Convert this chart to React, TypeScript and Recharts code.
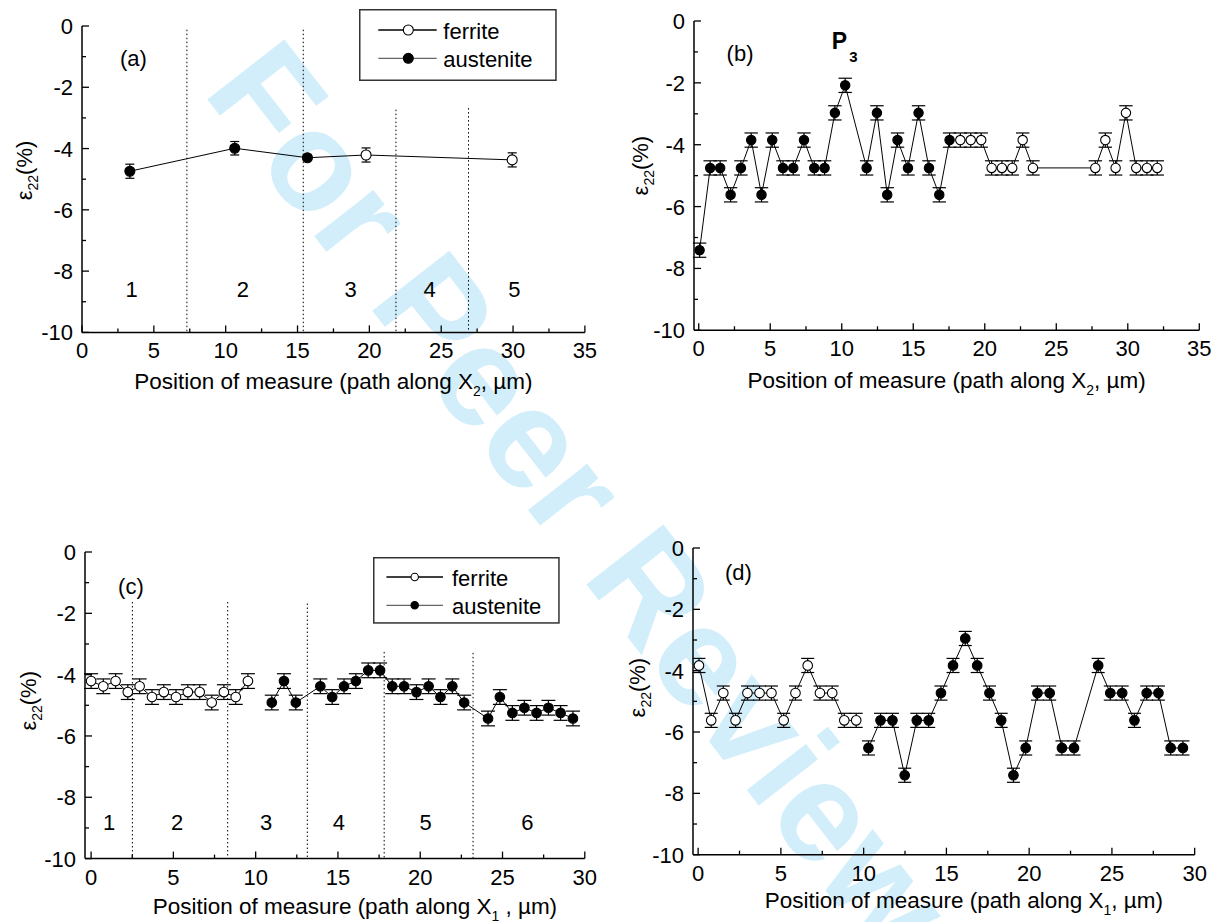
import React from "react";
import {
  ComposedChart,
  ErrorBar,
  Legend,
  Line,
  ReferenceDot,
  ReferenceLine,
  XAxis,
  YAxis,
} from "recharts";

const FONT = '"Liberation Sans", Arial, Helvetica, sans-serif';

// shared ticks
const xTicks35 = [0, 2.5, 5, 7.5, 10, 12.5, 15, 17.5, 20, 22.5, 25, 27.5, 30, 32.5, 35];
const xTicks30 = [0, 2.5, 5, 7.5, 10, 12.5, 15, 17.5, 20, 22.5, 25, 27.5, 30];
const yTicks = [0, -1, -2, -3, -4, -5, -6, -7, -8, -9, -10];
const legendNames = ["ferrite", "austenite"];

// (a) path along X2, five zones
const aPos = [3.33, 10.63, 15.69, 19.77, 29.94];
const aStrain = [-4.74, -3.99, -4.3, -4.21, -4.37];
const aErr = [0.23, 0.22, 0.08, 0.23, 0.23];
const aPhase = ["austenite", "austenite", "austenite", "ferrite", "ferrite"];
const aBounds = [7.3, 15.4, 21.85, 26.9];
const aBoundTop = [-0.12, -0.12, -2.73, -2.68];
const aZones = ["1", "2", "3", "4", "5"];
const aZonePos = [3.46, 11.2, 18.7, 24.2, 30.1];

// (b) path along X2, fine steps
const bAusPos = [
  0.06, 0.8, 1.5, 2.23, 2.95, 3.67, 4.39, 5.14, 5.89, 6.61, 7.36, 8.08, 8.8, 9.52,
  10.24, 11.74, 12.46, 13.18, 13.9, 14.63, 15.37, 16.1, 16.82, 17.54,
];
const bAusStrain = [
  -7.41, -4.75, -4.75, -5.62, -4.75, -3.85, -5.62, -3.85, -4.75, -4.75, -3.85, -4.75,
  -4.75, -2.97, -2.08, -4.75, -2.97, -5.62, -3.85, -4.75, -2.97, -4.75, -5.62, -3.85,
];
const bFerPos = [
  18.29, 19.02, 19.75, 20.48, 21.2, 21.92, 22.65, 23.37, 27.73, 28.43, 29.15, 29.87,
  30.59, 31.34, 32.06,
];
const bFerStrain = [
  -3.85, -3.85, -3.85, -4.75, -4.75, -4.75, -3.85, -4.75, -4.75, -3.85, -4.75, -2.97,
  -4.75, -4.75, -4.75,
];
const bErr = 0.23;

// (c) path along X1, six zones
const cFerPos = [0, 0.74, 1.49, 2.23, 2.95, 3.7, 4.42, 5.16, 5.88, 6.6, 7.33, 8.07, 8.79, 9.53];
const cFerStrain = [
  -4.21, -4.38, -4.21, -4.57, -4.38, -4.73, -4.57, -4.73, -4.57, -4.57, -4.91, -4.57,
  -4.73, -4.21,
];
const cAusPos = [
  10.98, 11.72, 12.44, 13.93, 14.65, 15.37, 16.09, 16.84, 17.56, 18.3, 19.02, 19.77,
  20.51, 21.23, 21.95, 22.67, 24.12, 24.84, 25.6, 26.33, 27.07, 27.79, 28.53, 29.28,
];
const cAusStrain = [
  -4.91, -4.21, -4.91, -4.38, -4.73, -4.38, -4.21, -3.86, -3.86, -4.38, -4.38, -4.57,
  -4.38, -4.73, -4.38, -4.91, -5.43, -4.73, -5.25, -5.08, -5.25, -5.08, -5.25, -5.43,
];
const cErr = 0.24;
const cBounds = [2.51, 8.3, 13.14, 17.81, 23.21];
const cBoundTop = [-1.63, -1.63, -1.68, -3.26, -3.29];
const cZones = ["1", "2", "3", "4", "5", "6"];
const cZonePos = [1.09, 5.23, 10.63, 15.05, 20.33, 26.51];

// (d) path along X1
const dFerPos = [0.05, 0.79, 1.52, 2.26, 2.98, 3.71, 4.43, 5.17, 5.88, 6.62, 7.36, 8.1, 8.83, 9.55];
const dFerStrain = [
  -3.83, -5.62, -4.73, -5.62, -4.73, -4.73, -4.73, -5.62, -4.73, -3.83, -4.73, -4.73,
  -5.62, -5.62,
];
const dAusPos = [
  10.29, 11.02, 11.74, 12.48, 13.21, 13.93, 14.67, 15.4, 16.14, 16.86, 17.6, 18.31,
  19.05, 19.79, 20.5, 21.24, 21.98, 22.71, 24.17, 24.9, 25.62, 26.36, 27.1, 27.81,
  28.55, 29.29,
];
const dAusStrain = [
  -6.52, -5.62, -5.62, -7.41, -5.62, -5.62, -4.73, -3.83, -2.95, -3.83, -4.73, -5.62,
  -7.41, -6.52, -4.73, -4.73, -6.52, -6.52, -3.83, -4.73, -4.73, -5.62, -4.73, -4.73,
  -6.52, -6.52,
];
const dErr = 0.23;

type Row = { x: number; y: number; e: number; phase: string };

function toRows(xs: number[], ys: number[], err: number[] | number, phase: string[] | string): Row[] {
  return xs.map((x, i) => ({
    x,
    y: ys[i],
    e: Array.isArray(err) ? err[i] : err,
    phase: Array.isArray(phase) ? phase[i] : phase,
  }));
}

const makeDot = (r: number) => (p: any) => {
  if (p.cx == null || p.cy == null) return <g key={`n-${p.index}`} />;
  const ferrite = p.payload.phase === "ferrite";
  return (
    <circle
      key={`d-${p.index}`}
      cx={p.cx}
      cy={p.cy}
      r={r}
      fill={ferrite ? "#fff" : "#000"}
      stroke="#000"
      strokeWidth={1.1}
    />
  );
};

const YTick = (p: any) => {
  const v = p.payload.value;
  const major = v % 2 === 0;
  return (
    <g>
      <line x1={p.x} x2={p.x + (major ? 7 : 4)} y1={p.y} y2={p.y} stroke="#000" strokeWidth={1.3} />
      {major ? (
        <text x={p.x - 9} y={p.y + 8} textAnchor="end" fontFamily={FONT} fontSize={22} fill="#000">
          {v}
        </text>
      ) : null}
    </g>
  );
};

const XTick = (p: any) => {
  const v = p.payload.value;
  const major = v % 5 === 0;
  return (
    <g>
      <line x1={p.x} x2={p.x} y1={p.y} y2={p.y - (major ? 7 : 4)} stroke="#000" strokeWidth={1.3} />
      {major ? (
        <text x={p.x} y={p.y + 26} textAnchor="middle" fontFamily={FONT} fontSize={22} fill="#000">
          {v}
        </text>
      ) : null}
    </g>
  );
};

const yLabel = (off: number, dy: number) => (p: any) => {
  const vb = p.viewBox;
  const bx = vb.x + vb.width - off;
  const cy = vb.y + vb.height / 2 + dy;
  return (
    <text
      transform={`translate(${bx},${cy}) rotate(-90)`}
      textAnchor="middle"
      fontFamily={FONT}
      fontSize={22}
      fill="#000"
    >
      ε
      <tspan fontSize={14} dy={6}>
        22
      </tspan>
      <tspan dy={-6}>(%)</tspan>
    </text>
  );
};

const xLabel = (sub: string, sep: string, dx: number, base: number) => (p: any) => {
  const vb = p.viewBox;
  return (
    <text
      x={vb.x + vb.width / 2 + dx}
      y={vb.y + base}
      textAnchor="middle"
      fontFamily={FONT}
      fontSize={22.5}
      fill="#000"
    >
      Position of measure (path along X
      <tspan fontSize={14} dy={7}>
        {sub}
      </tspan>
      <tspan dy={-7}>{sep}µm)</tspan>
    </text>
  );
};

const centerText = (text: string, shift = 8) => (p: any) => {
  const vb = p.viewBox;
  return (
    <text x={vb.x} y={vb.y + shift} textAnchor="middle" fontFamily={FONT} fontSize={22} fill="#000">
      {text}
    </text>
  );
};

const p3Label = (p: any) => {
  const vb = p.viewBox;
  return (
    <text x={vb.x} y={vb.y} fontFamily={FONT} fontWeight="bold" fill="#000">
      <tspan fontSize={23}>P</tspan>
      <tspan fontSize={15} dx={2} dy={13}>
        3
      </tspan>
    </text>
  );
};

type LegendCfg = { w: number; h: number; rowY: number[]; lineX: number[]; dotX: number; textX: number; r: number; base: number };

const legendContent = (cfg: LegendCfg) => () => (
  <svg width={cfg.w} height={cfg.h} style={{ display: "block" }}>
    <rect x={0.75} y={0.75} width={cfg.w - 1.5} height={cfg.h - 1.5} fill="#fff" stroke="#333" strokeWidth={1.5} />
    {legendNames.map((name, i) => (
      <g key={name}>
        <line
          x1={cfg.lineX[0]}
          x2={cfg.lineX[1]}
          y1={cfg.rowY[i]}
          y2={cfg.rowY[i]}
          stroke={i === 0 ? "#000" : "#666"}
          strokeWidth={1.3}
        />
        <circle cx={cfg.dotX} cy={cfg.rowY[i]} r={cfg.r} fill={i === 0 ? "#fff" : "#000"} stroke="#000" strokeWidth={1.1} />
        <text x={cfg.textX} y={cfg.rowY[i] + cfg.base} fontFamily={FONT} fontSize={22} fill="#000">
          {name}
        </text>
      </g>
    ))}
  </svg>
);

type PanelProps = {
  plot: { l: number; r: number; t: number; b: number };
  xDomain: [number, number];
  xTicks: number[];
  series: Row[][];
  cap: number;
  dotR: number;
  bounds?: number[];
  boundTop?: number[];
  zones?: string[];
  zonePos?: number[];
  zoneY?: number;
  tag: string;
  tagPos: [number, number];
  sub: string;
  sep: string;
  xdx: number;
  xbase: number;
  yoff: number;
  ydy: number;
  legend?: { cfg: LegendCfg; left: number; top: number };
  extra?: React.ReactNode;
};

function Panel(props: PanelProps) {
  const { plot } = props;
  const margin = { top: 20, right: 20, bottom: 15, left: 20 };
  const left = plot.l - 80;
  const top = plot.t - 20;
  const width = plot.r - plot.l + 100;
  const height = plot.b - plot.t + 95;
  return (
    <div style={{ position: "absolute", left, top }}>
      <ComposedChart width={width} height={height} margin={margin}>
        <XAxis
          type="number"
          dataKey="x"
          domain={props.xDomain}
          allowDataOverflow
          ticks={props.xTicks}
          interval={0}
          height={60}
          tickSize={0}
          tickMargin={0}
          tickLine={false}
          tick={<XTick />}
          axisLine={{ stroke: "#000", strokeWidth: 1.5 }}
          label={xLabel(props.sub, props.sep, props.xdx, props.xbase)}
        />
        <YAxis
          type="number"
          domain={[-10, 0]}
          allowDataOverflow
          ticks={yTicks}
          interval={0}
          width={60}
          tickSize={0}
          tickMargin={0}
          tickLine={false}
          tick={<YTick />}
          axisLine={{ stroke: "#000", strokeWidth: 1.5 }}
          label={yLabel(props.yoff, props.ydy)}
        />
        {(props.bounds || []).map((bx, i) => (
          <ReferenceLine
            key={`b-${i}`}
            segment={[
              { x: bx, y: (props.boundTop || [])[i] },
              { x: bx, y: -10 },
            ]}
            stroke="#000"
            strokeWidth={1}
            strokeDasharray="1.5 2.5"
          />
        ))}
        {(props.zones || []).map((z, i) => (
          <ReferenceDot
            key={`z-${i}`}
            x={(props.zonePos || [])[i]}
            y={props.zoneY}
            r={0}
            fill="none"
            stroke="none"
            label={centerText(z)}
          />
        ))}
        <ReferenceDot x={props.tagPos[0]} y={props.tagPos[1]} r={0} fill="none" stroke="none" label={centerText(props.tag, 7)} />
        {props.extra}
        {props.series.map((rows, i) => (
          <Line
            key={`s-${i}`}
            data={rows}
            dataKey="y"
            type="linear"
            stroke="#000"
            strokeWidth={1}
            dot={makeDot(props.dotR)}
            activeDot={false}
            isAnimationActive={false}
          >
            <ErrorBar dataKey="e" direction="y" width={props.cap} stroke="#000" strokeWidth={1.2} />
          </Line>
        ))}
        {props.legend ? (
          <Legend
            layout="vertical"
            align="center"
            verticalAlign="middle"
            content={legendContent(props.legend.cfg)}
            wrapperStyle={{ left: props.legend.left, top: props.legend.top, width: props.legend.cfg.w }}
          />
        ) : null}
      </ComposedChart>
    </div>
  );
}

export default function App() {
  const aRows = toRows(aPos, aStrain, aErr, aPhase);
  const bAus = toRows(bAusPos, bAusStrain, bErr, "austenite");
  const bFer = toRows(bFerPos, bFerStrain, bErr, "ferrite");
  const cFer = toRows(cFerPos, cFerStrain, cErr, "ferrite");
  const cAus = toRows(cAusPos, cAusStrain, cErr, "austenite");
  const dFer = toRows(dFerPos, dFerStrain, dErr, "ferrite");
  const dAus = toRows(dAusPos, dAusStrain, dErr, "austenite");

  return (
    <div
      style={{
        position: "absolute",
        left: 0,
        top: 0,
        width: 1218,
        height: 922,
        overflow: "hidden",
        background: "#fff",
        fontFamily: FONT,
      }}
    >
      <div
        style={{
          position: "absolute",
          left: 296,
          top: 18,
          fontSize: 142,
          lineHeight: 1,
          fontWeight: "bold",
          color: "#d2eefb",
          whiteSpace: "nowrap",
          transformOrigin: "0 0",
          transform: "rotate(52deg)",
        }}
      >
        For Peer Review
      </div>

      <Panel
        plot={{ l: 81.5, r: 584.4, t: 26.3, b: 332.7 }}
        xDomain={[0, 35]}
        xTicks={xTicks35}
        series={[aRows]}
        cap={4.5}
        dotR={5}
        bounds={aBounds}
        boundTop={aBoundTop}
        zones={aZones}
        zonePos={aZonePos}
        zoneY={-8.6}
        tag="(a)"
        tagPos={[3.58, -1.08]}
        sub="2"
        sep=", "
        xdx={0}
        xbase={57}
        yoff={49.7}
        ydy={-8.7}
        legend={{
          cfg: { w: 197.7, h: 72, rowY: [21, 49.3], lineX: [19.3, 77.7], dotX: 49.3, textX: 84.3, r: 5, base: 9 },
          left: 357.5,
          top: 2.7,
        }}
      />

      <Panel
        plot={{ l: 693.8, r: 1199.1, t: 20.7, b: 330 }}
        xDomain={[-0.33, 35]}
        xTicks={xTicks35}
        series={[bAus, bFer]}
        cap={6.7}
        dotR={4.7}
        tag="(b)"
        tagPos={[2.89, -1.06]}
        sub="2"
        sep=", "
        xdx={0}
        xbase={58}
        yoff={46}
        ydy={-10}
        extra={<ReferenceDot x={9.31} y={-0.89} r={0} fill="none" stroke="none" label={p3Label} />}
      />

      <Panel
        plot={{ l: 85, r: 584.8, t: 551.7, b: 858.3 }}
        xDomain={[-0.37, 30]}
        xTicks={xTicks30}
        series={[cFer, cAus]}
        cap={7}
        dotR={4.8}
        bounds={cBounds}
        boundTop={cBoundTop}
        zones={cZones}
        zonePos={cZonePos}
        zoneY={-8.8}
        tag="(c)"
        tagPos={[2.42, -1.14]}
        sub="1"
        sep=" , "
        xdx={20}
        xbase={55}
        yoff={49.5}
        ydy={-4.5}
        legend={{
          cfg: { w: 186.7, h: 66.7, rowY: [20, 48.3], lineX: [13.4, 70], dotX: 41.7, textX: 79, r: 3.7, base: 8.5 },
          left: 368.3,
          top: 25.3,
        }}
      />

      <Panel
        plot={{ l: 692.7, r: 1194.4, t: 548.3, b: 855 }}
        xDomain={[-0.31, 30]}
        xTicks={xTicks30}
        series={[dFer, dAus]}
        cap={6.5}
        dotR={4.8}
        tag="(d)"
        tagPos={[2.43, -0.82]}
        sub="1"
        sep=", "
        xdx={20}
        xbase={53}
        yoff={48.5}
        ydy={-13.7}
      />
    </div>
  );
}
